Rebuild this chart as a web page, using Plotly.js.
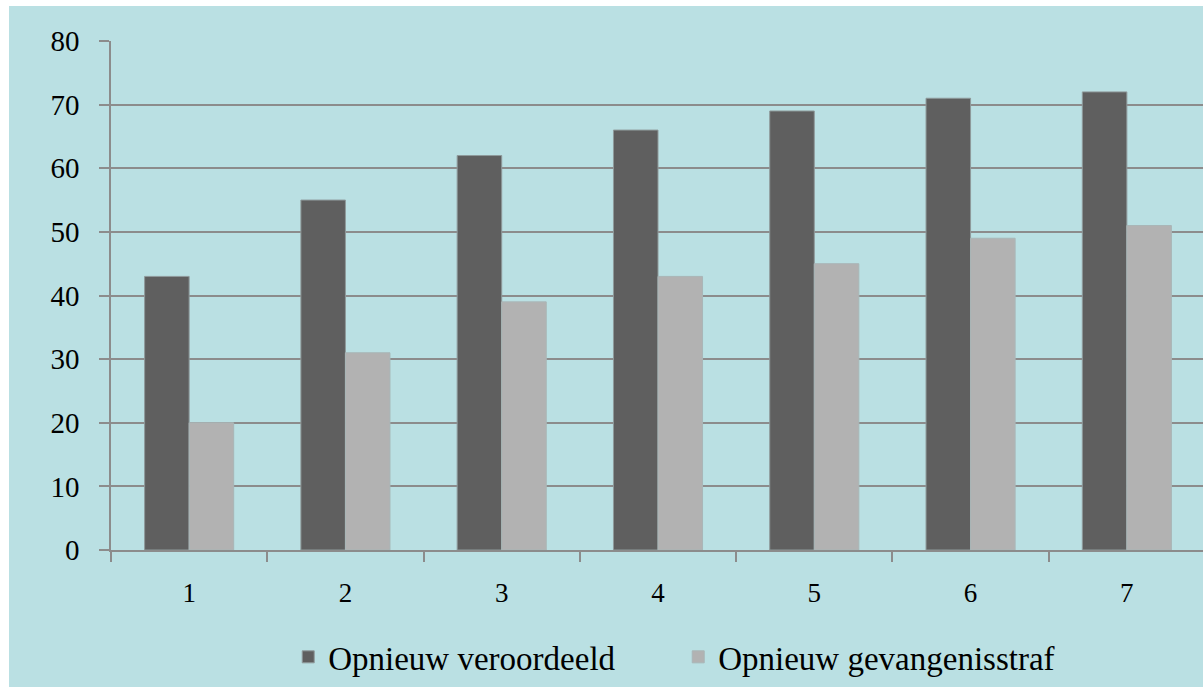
<!DOCTYPE html>
<html>
<head>
<meta charset="utf-8">
<script src="https://cdn.plot.ly/plotly-3.0.1.min.js"></script>
<style>
html, body { margin: 0; padding: 0; background: #ffffff; width: 1203px; height: 687px; overflow: hidden; }
#chart { position: absolute; left: 9px; top: 6px; width: 1196px; height: 681px; }
</style>
</head>
<body>
<div id="chart"></div>
<script>
const categories = ["1", "2", "3", "4", "5", "6", "7"];
const veroordeeld = [43, 55, 62, 66, 69, 71, 72];
const gevangenisstraf = [20, 31, 39, 43, 45, 49, 51];
const seriesNames = ["Opnieuw veroordeeld", "Opnieuw gevangenisstraf"];
const yTicks = [0, 10, 20, 30, 40, 50, 60, 70, 80];

const fontFam = "Liberation Serif";
const bg = "#bae0e3";

const traces = [
  { type: "bar", x: categories, y: veroordeeld, name: seriesNames[0],
    marker: { color: "#5f5f5f", line: { color: "#8f9a9b", width: 1 } } },
  { type: "bar", x: categories, y: gevangenisstraf, name: seriesNames[1],
    marker: { color: "#b2b2b2", line: { color: "#a9b6b7", width: 1 } } }
];

const layout = {
  width: 1196, height: 681,
  paper_bgcolor: bg, plot_bgcolor: bg,
  margin: { l: 102, r: 0, t: 35, b: 137 },
  barmode: "group", bargap: 0.43, bargroupgap: 0,
  font: { family: fontFam, size: 27, color: "#000000" },
  showlegend: true,
  legend: {
    orientation: "h", x: 0.162, xanchor: "left", y: -0.21, yanchor: "middle",
    entrywidth: 345, entrywidthmode: "pixels",
    font: { family: fontFam, size: 33, color: "#000000" },
    bgcolor: "rgba(0,0,0,0)"
  },
  xaxis: {
    type: "category", tickson: "boundaries", ticks: "outside", ticklen: 10,
    tickcolor: "#8c8c8c", tickwidth: 1.5,
    showline: true, linecolor: "#8c8c8c", linewidth: 2,
    showgrid: false, zeroline: false,
    tickfont: { family: fontFam, size: 27, color: "#000000" },
    ticklabelstandoff: 18
  },
  yaxis: {
    range: [0, 80], tickvals: yTicks, ticktext: yTicks.map(String),
    ticks: "outside", ticklen: 10, tickcolor: "#8c8c8c", tickwidth: 1.5,
    showline: true, linecolor: "#8c8c8c", linewidth: 1.5,
    showgrid: true, gridcolor: "#8c8c8c", gridwidth: 1.5, zeroline: false,
    tickfont: { family: fontFam, size: 29, color: "#000000" },
    ticklabelstandoff: 14
  }
};

Plotly.newPlot("chart", traces, layout, { displayModeBar: false });
</script>
</body>
</html>
